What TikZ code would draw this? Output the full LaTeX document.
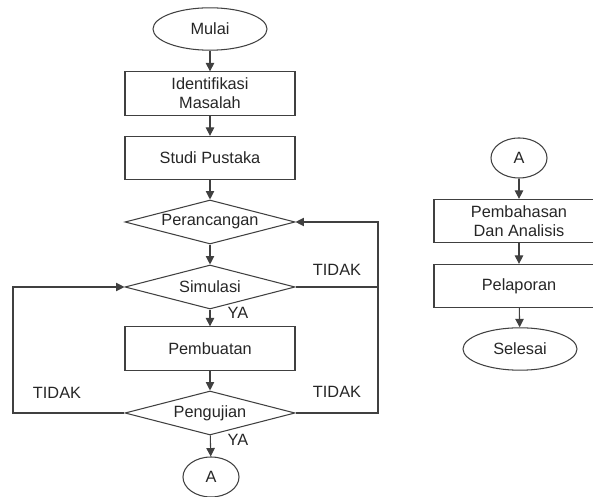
\documentclass[tikz,border=0pt]{standalone}
\usepackage{fontspec}
\setmainfont{Liberation Sans}
\usetikzlibrary{shapes.geometric,arrows.meta}

\begin{document}
\begin{tikzpicture}[x=0.025cm,y=-0.025cm,
    every node/.style={text=black!85, font=\fontsize{11.6}{13.5}\selectfont},
    garis/.style={draw=black!75, line width=0.75pt},
    proses/.style={garis, rectangle, minimum width=4.25cm, minimum height=1.08cm, align=center, inner sep=0pt},
    keputusan/.style={garis, diamond, aspect=3.8, minimum width=4.25cm, minimum height=1.1cm, inner sep=0pt},
    terminal/.style={garis, ellipse, minimum width=2.85cm, minimum height=1.06cm, inner sep=0pt},
    konektor/.style={garis, ellipse, minimum width=1.4cm, minimum height=1cm, inner sep=0pt},
    panah/.style={garis, -{Triangle[length=6pt,width=6pt]}}]

        \useasboundingbox (0,0) rectangle (593,497);

        % kolom kiri
        \node[terminal] (mulai) at (210,29) {Mulai};
        \node[proses] (identifikasi) at (210,93.5) {Identifikasi\\Masalah};
        \node[proses] (studi) at (210,158) {Studi Pustaka};
        \node[keputusan] (perancangan) at (210,222) {Perancangan};
        \node[keputusan] (simulasi) at (210,287) {Simulasi};
        \node[proses] (pembuatan) at (210,348.5) {Pembuatan};
        \node[keputusan] (pengujian) at (210,413) {Pengujian};
        \node[konektor] (akiri) at (211,477) {A};

        \draw[panah] (mulai) -- (identifikasi);
        \draw[panah] (identifikasi) -- (studi);
        \draw[panah] (studi) -- (perancangan);
        \draw[panah] (perancangan) -- (simulasi);
        \draw[panah] (simulasi) -- (pembuatan);
        \draw[panah] (pembuatan) -- (pengujian);
        \draw[panah] (pengujian) -- (akiri);

        % jalur TIDAK
        \coordinate (kiri) at (13,413);
        \coordinate (kanan) at (378,413);
        \draw[panah] (pengujian.west) -- (kiri) |- (simulasi.west);
        \draw[panah] (pengujian.east) -- (kanan) |- (perancangan.east);
        \draw[garis] (simulasi.east) -- (simulasi.east -| kanan);

        \node (ya1) at (238,313) {YA};
        \node (ya2) at (238,440) {YA};
        \node (tidak1) at (337,270) {TIDAK};
        \node (tidak2) at (337,392) {TIDAK};
        \node (tidak3) at (57,393) {TIDAK};

        % kolom kanan
        \node[konektor] (akanan) at (519,158) {A};
        \node[proses] (pembahasan) at (519,221) {Pembahasan\\Dan Analisis};
        \node[proses] (pelaporan) at (519,286) {Pelaporan};
        \node[terminal] (selesai) at (520,349) {Selesai};

        \draw[panah] (akanan) -- (pembahasan);
        \draw[panah] (pembahasan) -- (pelaporan);
        \draw[panah] (pelaporan) -- (selesai);

      \end{tikzpicture}
\end{document}
